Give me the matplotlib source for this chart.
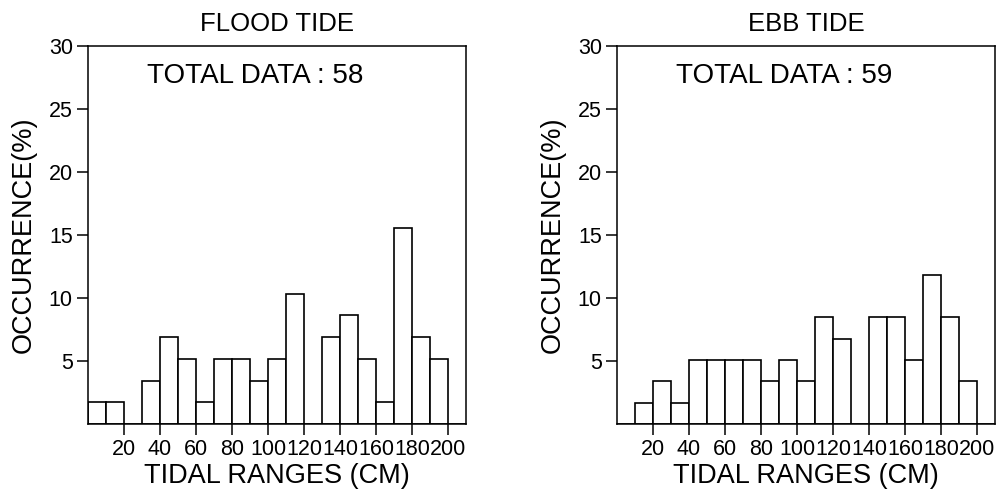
import matplotlib.pyplot as plt
import numpy as np

plt.rcParams['font.family'] = ['Liberation Sans', 'DejaVu Sans']

# bin left edges (cm) and counts per 10 cm bin
BinEdges = np.arange(0, 210, 10)
FloodCounts = [1, 1, 0, 2, 4, 3, 1, 3, 3, 2, 3, 6, 0, 4, 5, 3, 1, 9, 4, 3, 0]
EbbCounts = [0, 1, 2, 1, 3, 3, 3, 3, 2, 3, 2, 5, 4, 0, 5, 5, 3, 7, 5, 2, 0]
FloodTotal = 58
EbbTotal = 59
Titles = ["FLOOD TIDE", "EBB TIDE"]
XTicks = [20, 40, 60, 80, 100, 120, 140, 160, 180, 200]
YTicks = [5, 10, 15, 20, 25, 30]

fig = plt.figure(figsize=(9.97, 4.92), dpi=100)
ax1 = fig.add_axes([0.0883, 0.1382, 0.379, 0.7683])
ax2 = fig.add_axes([0.6189, 0.1382, 0.379, 0.7683])

for ax, counts, total, title in [(ax1, FloodCounts, FloodTotal, Titles[0]),
                                 (ax2, EbbCounts, EbbTotal, Titles[1])]:
    pct = np.array(counts) / total * 100        # occurrence in percent
    ax.bar(BinEdges, pct, width=10, align='edge', facecolor='white',
           edgecolor='black', linewidth=1.2)
    ax.set_xlim(0, 210)
    ax.set_ylim(0, 30)
    ax.set_xticks(XTicks)
    ax.set_yticks(YTicks)
    ax.tick_params(direction='out', length=8, width=1.1, labelsize=15.5, pad=3)
    for s in ax.spines.values():
        s.set_linewidth(1.1)
    ax.set_title(title, fontsize=18.5, pad=11)
    ax.set_xlabel("TIDAL RANGES (CM)", fontsize=19.5, labelpad=2)
    ax.set_ylabel("OCCURRENCE(%)", fontsize=19.5)
    ax.yaxis.set_label_coords(-0.135, 0.5)
    ax.text(33, 27.1, "TOTAL DATA : %d" % total, fontsize=20, ha='left', va='baseline')

plt.savefig("out.png", dpi=100)
